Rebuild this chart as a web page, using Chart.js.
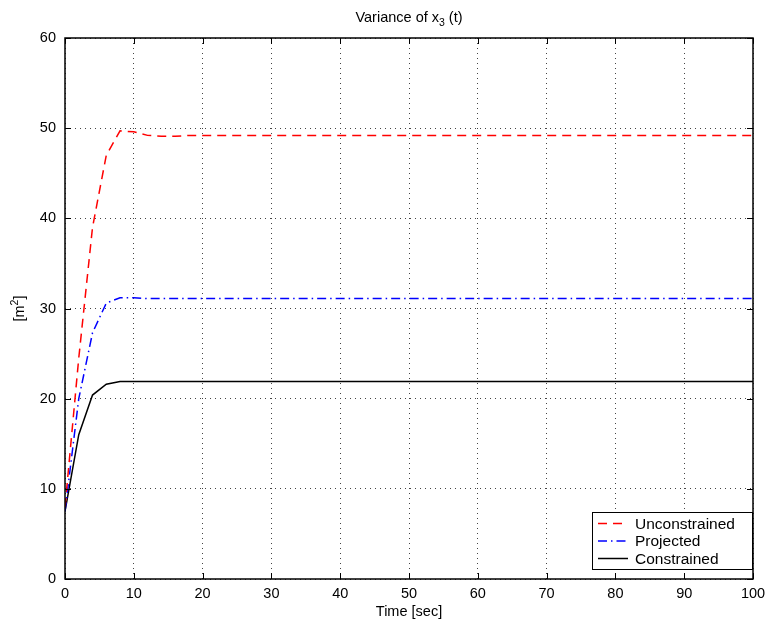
<!DOCTYPE html>
<html>
<head>
<meta charset="utf-8">
<script src="https://cdn.jsdelivr.net/npm/chart.js@4"></script>
<style>
  body { margin: 0; background: #fff; }
  #wrap { width: 768px; height: 634px; }
</style>
</head>
<body>
<div id="wrap"><canvas id="myChart" width="768" height="634"></canvas></div>
<script>
// time in seconds, sampled every 2 s
const time = [];
for (let t = 0; t <= 100; t += 2) time.push(t);

const unconstrained = [8, 24.5, 39, 47, 49.7, 49.6, 49.2, 49.1, 49.1, 49.2,
  49.2, 49.2, 49.2, 49.2, 49.2, 49.2, 49.2, 49.2, 49.2, 49.2,
  49.2, 49.2, 49.2, 49.2, 49.2, 49.2, 49.2, 49.2, 49.2, 49.2,
  49.2, 49.2, 49.2, 49.2, 49.2, 49.2, 49.2, 49.2, 49.2, 49.2,
  49.2, 49.2, 49.2, 49.2, 49.2, 49.2, 49.2, 49.2, 49.2, 49.2, 49.2];
const projected = [7.5, 20, 27.3, 30.6, 31.2, 31.2, 31.1, 31.1, 31.1, 31.1,
  31.1, 31.1, 31.1, 31.1, 31.1, 31.1, 31.1, 31.1, 31.1, 31.1,
  31.1, 31.1, 31.1, 31.1, 31.1, 31.1, 31.1, 31.1, 31.1, 31.1,
  31.1, 31.1, 31.1, 31.1, 31.1, 31.1, 31.1, 31.1, 31.1, 31.1,
  31.1, 31.1, 31.1, 31.1, 31.1, 31.1, 31.1, 31.1, 31.1, 31.1, 31.1];
const constrained = [7.5, 16, 20.4, 21.6, 21.9, 21.9, 21.9, 21.9, 21.9, 21.9,
  21.9, 21.9, 21.9, 21.9, 21.9, 21.9, 21.9, 21.9, 21.9, 21.9,
  21.9, 21.9, 21.9, 21.9, 21.9, 21.9, 21.9, 21.9, 21.9, 21.9,
  21.9, 21.9, 21.9, 21.9, 21.9, 21.9, 21.9, 21.9, 21.9, 21.9,
  21.9, 21.9, 21.9, 21.9, 21.9, 21.9, 21.9, 21.9, 21.9, 21.9, 21.9];

const xTicks = [0, 10, 20, 30, 40, 50, 60, 70, 80, 90, 100];
const yTicks = [0, 10, 20, 30, 40, 50, 60];

const FONT = '"Liberation Sans", Arial, sans-serif';

function pts(vals) {
  return vals.map((v, i) => ({ x: time[i], y: v }));
}

// box, inward ticks, title, y label and legend drawn on top
const matlabPlugin = {
  id: 'matlab',
  afterDraw(chart) {
    const ctx = chart.ctx;
    const a = chart.chartArea;
    const xs = chart.scales.x, ys = chart.scales.y;
    ctx.save();
    ctx.strokeStyle = '#000';
    ctx.lineWidth = 1;
    ctx.setLineDash([]);
    ctx.beginPath();
    xTicks.forEach(t => {
      const px = Math.round(xs.getPixelForValue(t)) + 0.5;
      ctx.moveTo(px, a.bottom); ctx.lineTo(px, a.bottom - 6);
      ctx.moveTo(px, a.top); ctx.lineTo(px, a.top + 6);
    });
    yTicks.forEach(t => {
      const py = Math.round(ys.getPixelForValue(t)) + 0.5;
      ctx.moveTo(a.left, py); ctx.lineTo(a.left + 6, py);
      ctx.moveTo(a.right, py); ctx.lineTo(a.right - 6, py);
    });
    ctx.stroke();
    ctx.lineWidth = 1.5;
    ctx.strokeRect(a.left, a.top, a.right - a.left, a.bottom - a.top);

    // title
    ctx.fillStyle = '#000';
    ctx.textBaseline = 'alphabetic';
    const big = '14.5px ' + FONT, small = '10.5px ' + FONT;
    ctx.font = big;
    const p1 = 'Variance of x', p3 = ' (t)';
    const w1 = ctx.measureText(p1).width, w3 = ctx.measureText(p3).width;
    ctx.font = small;
    const w2 = ctx.measureText('3').width;
    let tx = (a.left + a.right) / 2 - (w1 + w2 + w3) / 2;
    const ty = 22;
    ctx.font = big; ctx.textAlign = 'left';
    ctx.fillText(p1, tx, ty);
    ctx.font = small; ctx.fillText('3', tx + w1, ty + 4);
    ctx.font = big; ctx.fillText(p3, tx + w1 + w2, ty);

    // y label [m^2]
    ctx.save();
    ctx.translate(24, (a.top + a.bottom) / 2);
    ctx.rotate(-Math.PI / 2);
    ctx.font = big;
    const l1 = '[m', l3 = ']';
    const lw1 = ctx.measureText(l1).width, lw3 = ctx.measureText(l3).width;
    ctx.font = small;
    const lw2 = ctx.measureText('2').width;
    let lx = -(lw1 + lw2 + lw3) / 2;
    ctx.font = big; ctx.fillText(l1, lx, 0);
    ctx.font = small; ctx.fillText('2', lx + lw1, -6);
    ctx.font = big; ctx.fillText(l3, lx + lw1 + lw2, 0);
    ctx.restore();

    // legend
    const lx0 = 592, ly0 = 512, lw = 160, lh = 57;
    ctx.fillStyle = '#fff';
    ctx.fillRect(lx0, ly0, lw, lh);
    ctx.lineWidth = 1;
    ctx.strokeStyle = '#000';
    ctx.strokeRect(lx0 + 0.5, ly0 + 0.5, lw, lh);
    chart.data.datasets.forEach((ds, i) => {
      const y = ly0 + 11.5 + i * 17.5;
      ctx.strokeStyle = ds.borderColor;
      ctx.lineWidth = ds.borderWidth;
      ctx.setLineDash(ds.borderDash || []);
      ctx.beginPath();
      ctx.moveTo(lx0 + 6, y); ctx.lineTo(lx0 + 36, y);
      ctx.stroke();
      ctx.setLineDash([]);
      ctx.fillStyle = '#000';
      ctx.font = '15.5px ' + FONT;
      ctx.textBaseline = 'middle';
      ctx.fillText(ds.label, lx0 + 43, y + 1);
    });
    ctx.restore();
  }
};

const ctx = document.getElementById('myChart');
const myChart = new Chart(ctx, {
  type: 'line',
  data: {
    datasets: [{
      label: 'Unconstrained',
      data: pts(unconstrained),
      borderColor: '#ff0000',
      borderWidth: 1.5,
      borderDash: [9, 6],
      pointRadius: 0,
      tension: 0,
      fill: false
    }, {
      label: 'Projected',
      data: pts(projected),
      borderColor: '#0000ff',
      borderWidth: 1.5,
      borderDash: [9, 4, 1.5, 4],
      pointRadius: 0,
      tension: 0,
      fill: false
    }, {
      label: 'Constrained',
      data: pts(constrained),
      borderColor: '#000000',
      borderWidth: 1.5,
      pointRadius: 0,
      tension: 0,
      fill: false
    }]
  },
  options: {
    responsive: false,
    animation: false,
    layout: { padding: { left: 0, right: 15, top: 38, bottom: 13 } },
    plugins: {
      legend: { display: false },
      tooltip: { enabled: false }
    },
    scales: {
      x: {
        type: 'linear',
        min: 0,
        max: 100,
        afterFit(scale) { scale.height = 42; scale.paddingLeft = 0; scale.paddingRight = 0; },
        afterBuildTicks(scale) { scale.ticks = xTicks.map(v => ({ value: v })); },
        ticks: { color: '#000', font: { family: FONT, size: 14.5 }, padding: 6, maxRotation: 0 },
        grid: { color: '#444', drawTicks: false, lineWidth: 1 },
        border: { display: false, dash: [1, 4] },
        title: {
          display: true,
          text: 'Time [sec]',
          color: '#000',
          font: { family: FONT, size: 14.5 },
          padding: { top: 2, bottom: 0 }
        }
      },
      y: {
        min: 0,
        max: 60,
        afterFit(scale) { scale.width = 65; scale.paddingTop = 0; scale.paddingBottom = 0; },
        afterBuildTicks(scale) { scale.ticks = yTicks.map(v => ({ value: v })); },
        ticks: { color: '#000', font: { family: FONT, size: 14.5 }, padding: 9 },
        grid: { color: '#444', drawTicks: false, lineWidth: 1 },
        border: { display: false, dash: [1, 4] }
      }
    }
  },
  plugins: [matlabPlugin]
});
</script>
</body>
</html>
